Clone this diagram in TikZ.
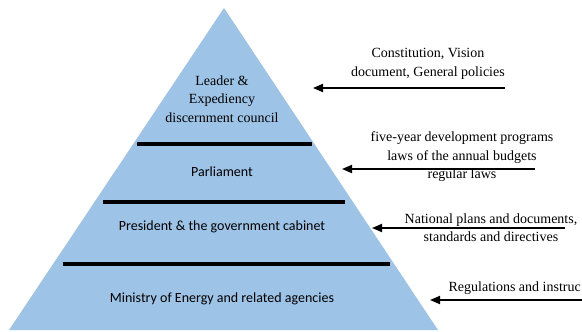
\documentclass[tikz,border=0pt]{standalone}
\usepackage{fontspec}
\newfontfamily\timesfont{Liberation Serif}
\newfontfamily\calibrifont{Carlito}
\usetikzlibrary{arrows.meta}

\begin{document}
\begin{tikzpicture}[x=1pt,y=-1pt,
    pyramid/.style={fill={rgb,255:red,157;green,195;blue,230}},
    divider/.style={line width=4pt},
    level/.style={font=\calibrifont\fontsize{14}{18}\selectfont, align=center},
    note/.style={font=\timesfont\fontsize{14}{18.5}\selectfont, align=center},
    feed/.style={line width=1.8pt, -{Triangle[length=10pt,width=8pt]}}]
    % Picture frame
    \useasboundingbox (0,0) rectangle (582,332);
    
    % Define coordinates
    \coordinate (T) at (224,8);
    \coordinate (L) at (9,330);
    \coordinate (R) at (438,330);
    
    % Draw the pyramid
    \fill[pyramid] (T) -- (L) -- (R) -- cycle;
    
    % Draw the dividing lines
    \draw[divider] (137,144) -- (312,144);
    \draw[divider] (103,202) -- (345,202);
    \draw[divider] (63,264) -- (390,264);
    
    % Levels of the pyramid
    \node[note] (leader) at (222,99) {Leader \&\\Expediency\\discernment council};
    \node[level] (parliament) at (222,172) {Parliament};
    \node[level] (president) at (222,227) {President \& the government cabinet};
    \node[level] (ministry) at (222,299) {Ministry of Energy and related agencies};
    
    % Documents on the right
    \node[note] (constitution) at (428,64) {Constitution, Vision\\document, General policies};
    \node[note] (programs) at (462,157) {five-year development programs\\laws of the annual budgets\\regular laws};
    \node[note] (plans) at (491,227.5) {National plans and documents,\\standards and directives};
    \node[note, anchor=east, inner xsep=1pt] (regulations) at (582,288) {Regulations and instruc};
    
    % Arrow ends
    \coordinate (c1) at (505,88);
    \coordinate (t1) at (313,88);
    \coordinate (c2) at (535,169);
    \coordinate (t2) at (342,169);
    \coordinate (c3) at (565,228);
    \coordinate (t3) at (372,228);
    \coordinate (c4) at (582,300);
    \coordinate (t4) at (430,300);
    
    % Arrows
    \draw[feed] (c1) -- (t1);
    \draw[feed] (c2) -- (t2);
    \draw[feed] (c3) -- (t3);
    \draw[feed] (c4) -- (t4);
\end{tikzpicture}
\end{document}
